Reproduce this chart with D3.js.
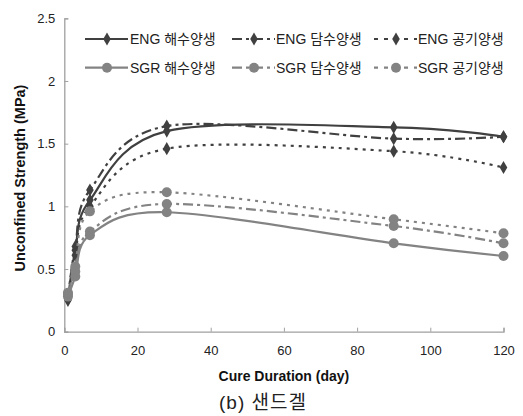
<!DOCTYPE html>
<html>
<head>
<meta charset="utf-8">
<script src="https://cdn.jsdelivr.net/npm/d3@7"></script>
<style>
body { margin: 0; background: #fff; }
svg { font-family: "Liberation Sans", "Noto Sans CJK KR", sans-serif; }
</style>
</head>
<body>
<svg id="chart" width="523" height="416"></svg>
<script>
// data
var days = [1, 3, 7, 28, 90, 120];
var engSea = [0.25, 0.65, 1.05, 1.60, 1.63, 1.555];
var engFresh = [0.27, 0.68, 1.13, 1.64, 1.54, 1.555];
var engAir = [0.26, 0.61, 1.00, 1.46, 1.44, 1.31];
var sgrSea = [0.28, 0.44, 0.77, 0.953, 0.705, 0.604];
var sgrFresh = [0.30, 0.48, 0.80, 1.019, 0.843, 0.705];
var sgrAir = [0.31, 0.52, 0.96, 1.112, 0.897, 0.785];
var seriesNames = ["ENG 해수양생", "ENG 담수양생", "ENG 공기양생", "SGR 해수양생", "SGR 담수양생", "SGR 공기양생"];
var xTicks = [0, 20, 40, 60, 80, 100, 120];
var yTicks = [0, 0.5, 1, 1.5, 2, 2.5];

// - styles
var engColor = "#404040", sgrColor = "#838383";
var series = [
  {name: seriesNames[0], values: engSea, color: engColor, dash: null, marker: "diamond"},
  {name: seriesNames[1], values: engFresh, color: engColor, dash: "10,4,3,4", marker: "diamond"},
  {name: seriesNames[2], values: engAir, color: engColor, dash: "3,5", marker: "diamond"},
  {name: seriesNames[3], values: sgrSea, color: sgrColor, dash: null, marker: "circle"},
  {name: seriesNames[4], values: sgrFresh, color: sgrColor, dash: "10,4,3,4", marker: "circle"},
  {name: seriesNames[5], values: sgrAir, color: sgrColor, dash: "3,5", marker: "circle"}
];

var plotLeft = 64.3, plotRight = 503.5, plotTop = 18.3, plotBottom = 331.7;

var x = d3.scaleLinear().domain([0, 120]).range([plotLeft, plotRight]);
var y = d3.scaleLinear().domain([0, 2.5]).range([plotBottom, plotTop]);

var svg = d3.select("#chart");

// axes
var xAxis = svg.append("g")
  .attr("transform", "translate(0," + plotBottom + ")")
  .call(d3.axisBottom(x).tickValues(xTicks).tickSize(-4).tickPadding(14).tickFormat(d3.format("d")));
var yAxis = svg.append("g")
  .attr("transform", "translate(" + plotLeft + ",0)")
  .call(d3.axisLeft(y).tickValues(yTicks).tickSize(-4).tickPadding(9).tickFormat(function(d){return d;}));

[xAxis, yAxis].forEach(function(a){
  a.select(".domain").attr("stroke", "#a0a0a0").attr("stroke-width", 1.3);
  a.selectAll(".tick line").attr("stroke", "#a0a0a0");
  a.selectAll(".tick text").attr("fill", "#222").style("font-size", "13px").style("font-family", "Liberation Sans");
});

// lines
var line = d3.line()
  .x(function(d){return x(d[0]);})
  .y(function(d){return y(d[1]);})
  .curve(d3.curveCardinal.tension(0));

var diamond = d3.symbol().type(d3.symbolDiamond).size(50);

function drawMarker(g, type, color) {
  if (type === "diamond") {
    g.append("path").attr("d", diamond).attr("fill", color);
  } else {
    g.append("circle").attr("r", 5).attr("fill", color);
  }
}

series.forEach(function(s){
  var pts = days.map(function(d, i){return [d, s.values[i]];});
  svg.append("path")
    .datum(pts)
    .attr("d", line)
    .attr("fill", "none")
    .attr("stroke", s.color)
    .attr("stroke-width", 2.2)
    .attr("stroke-dasharray", s.dash);
  svg.selectAll(null)
    .data(pts).enter().append("g")
    .attr("transform", function(d){return "translate(" + x(d[0]) + "," + y(d[1]) + ")";})
    .each(function(){ drawMarker(d3.select(this), s.marker, s.color); });
});

// legend
var legX = [85, 232, 374];
var legY = [39, 67.7];
series.forEach(function(s, i){
  var lx = legX[i % 3], ly = legY[Math.floor(i / 3)];
  var g = svg.append("g").attr("transform", "translate(" + lx + "," + ly + ")");
  g.append("line")
    .attr("x1", 0).attr("x2", 43).attr("y1", 0).attr("y2", 0)
    .attr("stroke", s.color).attr("stroke-width", 2.2)
    .attr("stroke-dasharray", s.dash ? (s.dash === "3,5" ? "4,6" : "10,4,3,4") : null);
  var m = g.append("g").attr("transform", "translate(22,0)");
  drawMarker(m, s.marker, s.color);
  g.append("text")
    .attr("x", i % 3 === 0 ? 45 : 44)
    .attr("y", 5)
    .style("font-size", "14px")
    .attr("fill", "#222")
    .text(s.name);
});

// titles
svg.append("text")
  .attr("transform", "translate(25," + ((plotTop + plotBottom) / 2 + 3) + ") rotate(-90)")
  .attr("text-anchor", "middle")
  .style("font-size", "14.5px")
  .style("font-weight", "bold")
  .attr("fill", "#111")
  .text("Unconfined Strength (MPa)");

svg.append("text")
  .attr("x", (plotLeft + plotRight) / 2)
  .attr("y", 381)
  .attr("text-anchor", "middle")
  .style("font-size", "14px")
  .style("font-weight", "bold")
  .attr("fill", "#111")
  .text("Cure Duration (day)");

svg.append("text")
  .attr("x", 263)
  .attr("y", 409)
  .attr("text-anchor", "middle")
  .style("font-size", "19px")
  .style("letter-spacing", "1px")
  .attr("fill", "#222")
  .text("(b) 샌드겔");
</script>
</body>
</html>
